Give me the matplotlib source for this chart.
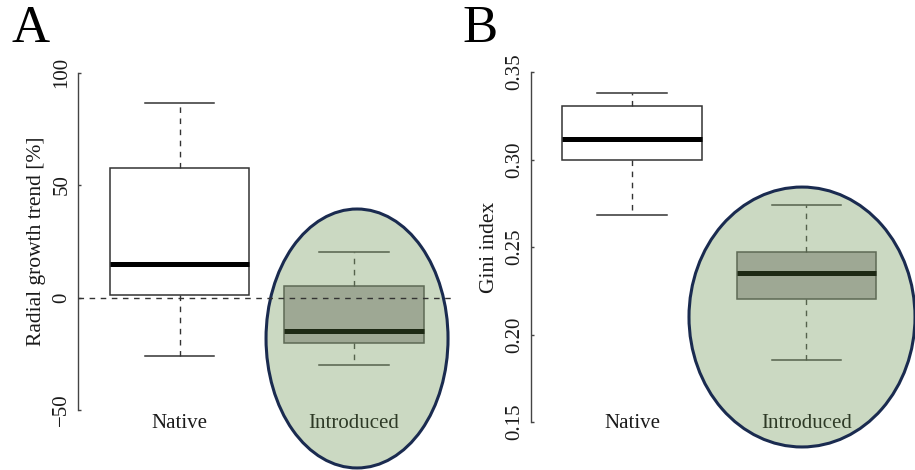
import matplotlib
matplotlib.use("Agg")
import matplotlib.pyplot as plt
from matplotlib.patches import Ellipse

plt.rcParams["font.family"] = ["Liberation Serif", "DejaVu Serif"]

groups = ["Native", "Introduced"]

# panel A: radial growth trend [%]
growth_low = [-26.2, -30.2]
growth_q1 = [1.0, -20.0]
growth_med = [15.1, -15.0]
growth_q3 = [57.7, 4.9]
growth_high = [86.5, 20.4]

# panel B: Gini index
gini_low = [0.2681, 0.1854]
gini_q1 = [0.2995, 0.2201]
gini_med = [0.3115, 0.2353]
gini_q3 = [0.3304, 0.2471]
gini_high = [0.3380, 0.2738]

ax_a_ticks = [-50, 0, 50, 100]
ax_b_ticks = [0.15, 0.20, 0.25, 0.30, 0.35]

text_col = "#1a1a1a"
box_face = ["white", "#9ea894"]
box_edge = ["#333333", "#5e6a55"]
med_col = ["black", "#1d2914"]
whisk_col = ["#333333", "#55624c"]
label_col = [text_col, "#2e3a26"]

fig = plt.figure(figsize=(9.15, 4.70), dpi=100)
fig.patch.set_facecolor("white")

ax_a = fig.add_axes([0.0856, 0.0989, 0.412, 0.7755])
ax_b = fig.add_axes([0.580, 0.0723, 0.412, 0.804])

# highlight ellipses behind the introduced boxes
fig.add_artist(Ellipse((0.3902, 0.2798), 0.1989, 0.551, transform=fig.transFigure,
                       facecolor="#cbd9c2", edgecolor="#1a2b50", linewidth=2.2, zorder=-1))
fig.add_artist(Ellipse((0.8765, 0.3255), 0.247, 0.553, transform=fig.transFigure,
                       facecolor="#cbd9c2", edgecolor="#1a2b50", linewidth=2.2, zorder=-1))


def draw_panel(ax, low, q1, med, q3, high, ylim, ticks, ticklabels, ylabel,
               letter, letter_xy, label_y):
    ax.set_facecolor("none")
    for i in range(len(groups)):
        stats = [{"whislo": low[i], "q1": q1[i], "med": med[i], "q3": q3[i],
                  "whishi": high[i], "fliers": []}]
        ax.bxp(stats, positions=[i + 1], widths=0.8, capwidths=0.4, patch_artist=True,
               showfliers=False,
               boxprops=dict(facecolor=box_face[i], edgecolor=box_edge[i], linewidth=1.1),
               medianprops=dict(color=med_col[i], linewidth=3.6, solid_capstyle="butt"),
               whiskerprops=dict(color=whisk_col[i], linewidth=1.0, linestyle=(0, (4, 4))),
               capprops=dict(color=whisk_col[i], linewidth=1.1))
        ax.text(i + 1, label_y, groups[i], transform=ax.get_xaxis_transform(),
                ha="center", va="center", fontsize=15, color=label_col[i])
    ax.set_xlim(0.42, 2.58)
    ax.set_ylim(*ylim)
    ax.set_xticks([])
    ax.set_yticks(ticks)
    ax.set_yticklabels(ticklabels)
    for side in ["top", "right", "bottom"]:
        ax.spines[side].set_visible(False)
    ax.spines["left"].set_bounds(ticks[0], ticks[-1])
    ax.spines["left"].set_color("#444444")
    ax.spines["left"].set_linewidth(1.0)
    ax.tick_params(axis="y", direction="in", length=2, width=1.0, color="#444444",
                   labelsize=15, labelcolor=text_col, labelrotation=90, pad=5)
    for lab in ax.get_yticklabels():
        lab.set_verticalalignment("center")
    ax.set_ylabel(ylabel, fontsize=15.5, color=text_col)
    ax.yaxis.set_label_coords(-0.11, 0.5)
    ax.yaxis.label.set_verticalalignment("center")
    ax.text(letter_xy[0], letter_xy[1], letter, transform=ax.transAxes, fontsize=38,
            color="black", ha="left", va="center")


draw_panel(ax_a, growth_low, growth_q1, growth_med, growth_q3, growth_high,
           (-56, 106), ax_a_ticks, ["\u221250", "0", "50", "100"],
           "Radial growth trend [%]", "A", (-0.178, 1.082), 0.0)
ax_a.axhline(0, color="#333333", linewidth=1.0, linestyle=(0, (4, 4)), zorder=3)

draw_panel(ax_b, gini_low, gini_q1, gini_med, gini_q3, gini_high,
           (0.142, 0.358), ax_b_ticks, ["0.15", "0.20", "0.25", "0.30", "0.35"],
           "Gini index", "B", (-0.182, 1.077), 0.034)

fig.savefig("out.png", dpi=100)
